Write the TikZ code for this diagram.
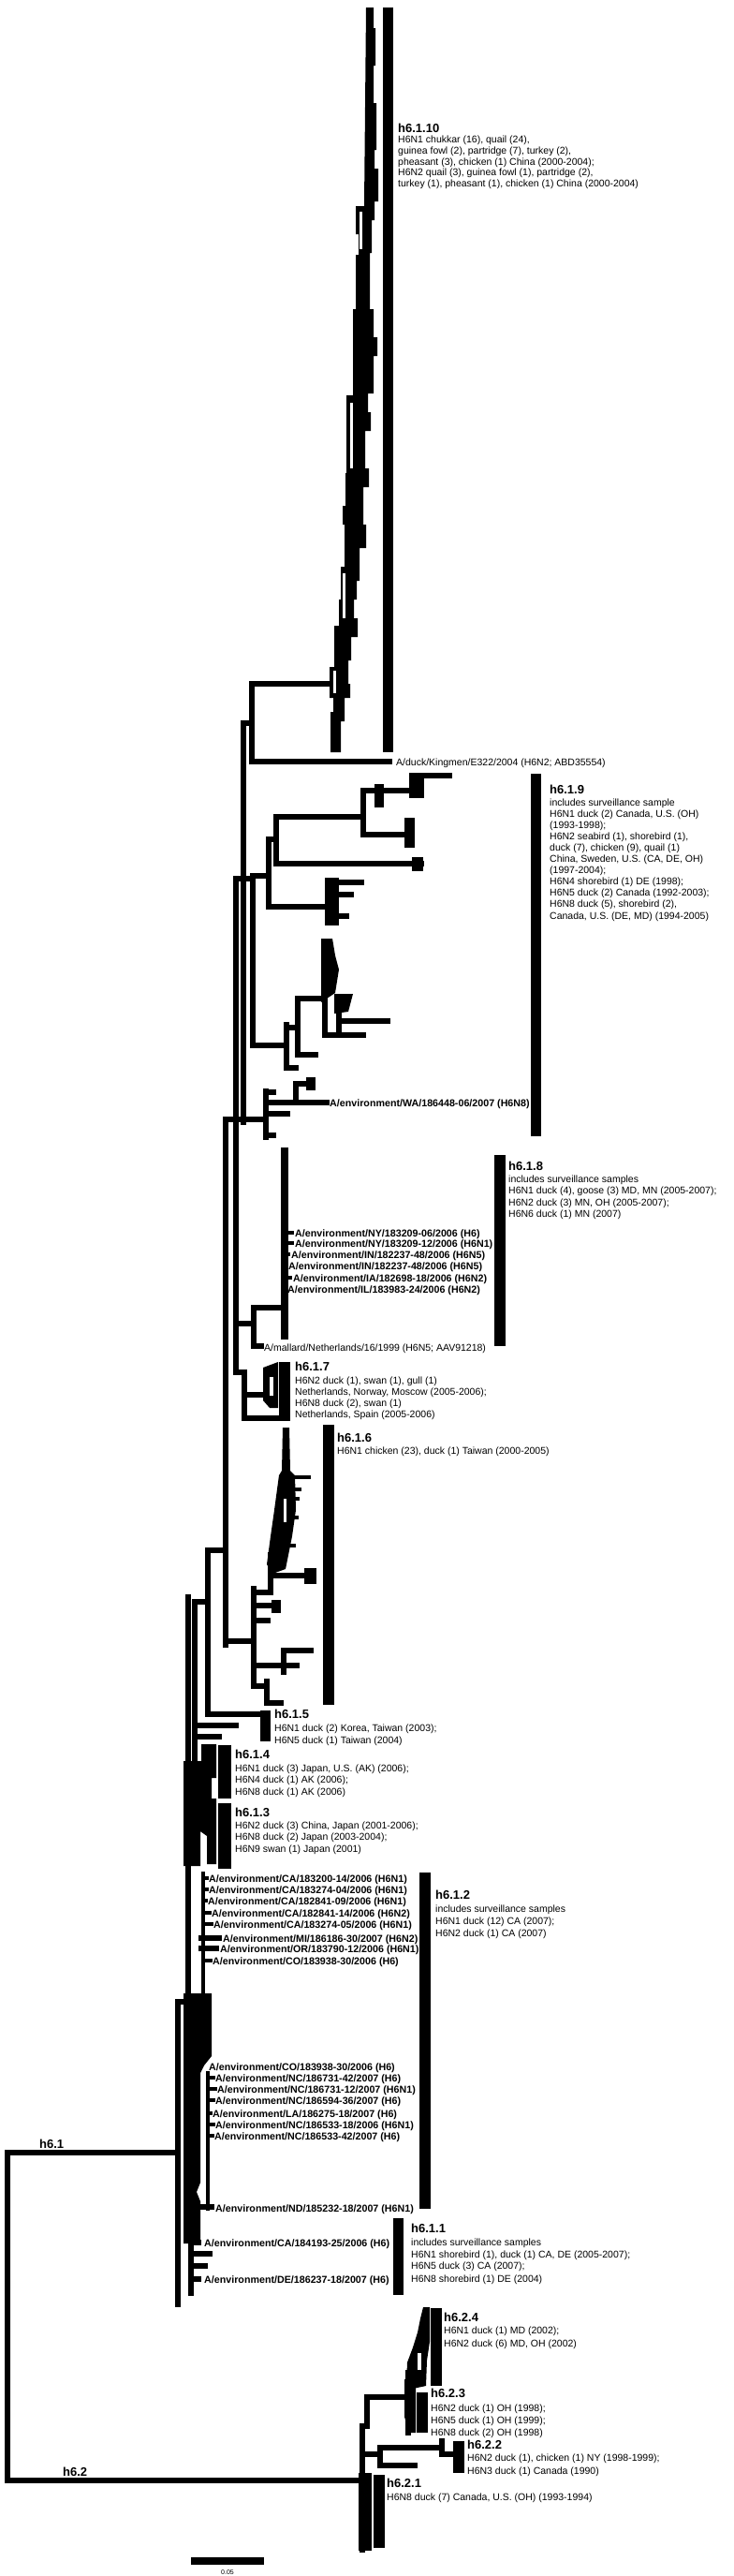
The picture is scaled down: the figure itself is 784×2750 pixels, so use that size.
\documentclass[tikz,border=0pt]{standalone}
\usepackage{fontspec}
\setmainfont{Liberation Sans}
\begin{document}
\begin{tikzpicture}[x=1pt,y=-1pt,
  br/.style={line width=6.5pt,line cap=rect,line join=miter},
  thinbr/.style={line width=4.5pt,line cap=rect,line join=miter},
  txt/.style={anchor=base west,inner sep=0pt,font=\fontsize{10.5}{12}\selectfont},
  envl/.style={anchor=base west,inner sep=0pt,font=\bfseries\fontsize{10.7}{12}\selectfont},
  hd/.style={anchor=base west,inner sep=0pt,font=\bfseries\fontsize{13}{14}\selectfont}]
\fill[white] (0,0) rectangle (784,2750);
\useasboundingbox (0,0) rectangle (784,2750);

% ---------------- root ----------------
\draw[br] (190,2298) -- (8,2298) -- (8,2648) -- (386,2648);

% ---------------- h6.2 ----------------
\draw[br] (387,2722) -- (387,2590);
\draw[br] (392,2590) -- (392,2559) -- (436,2559);
\fill (383,2640) rectangle (397,2723);
\fill (399,2642) rectangle (411,2720);
\draw[br] (387,2620) -- (406,2620);
\draw[br] (406,2632) -- (406,2613) -- (472,2613);
\draw[br] (472,2606) -- (472,2620) -- (484,2620);
\draw[br] (406,2632) -- (443,2632);
\fill (484,2606) rectangle (496,2640);
\draw[br] (436,2597) -- (436,2533);
\fill (432,2540) -- (444,2540) -- (444,2597) -- (437,2597) -- (432,2580) -- cycle;
\fill (445,2554) rectangle (457,2597);
\fill (460,2464) rectangle (472,2547);
\fill (452,2463) -- (459,2463) -- (459,2500) -- (456,2520) -- (455,2547) -- (441,2550) -- (434,2546) -- (435,2522) -- (441,2506) -- (446,2490) -- (449,2475) -- cycle;
\fill[white] (446,2512) rectangle (450,2530);

% ---------------- h6.1 lower (h6.1.1, h6.1.2) ----------------
\draw[br] (190,2137) -- (190,2460);
\draw[br] (201,1705) -- (201,2137) -- (190,2137);
\draw[br] (204,2300) -- (204,2448);
\fill (196,2128) -- (226,2128) -- (226,2195) -- (218,2205) -- (214,2213) -- (214,2330) -- (210,2340) -- (214,2350) -- (214,2395) -- (196,2395) -- cycle;
\draw[br] (204,2406) -- (224,2406);
\draw[br] (204,2419) -- (219,2419);
\draw[br] (204,2433) -- (212,2433);
\draw[br] (204,2394) -- (212,2394);
\draw[thinbr] (217,2000) -- (217,2130);
\draw[thinbr] (217,2005) -- (221,2005);
\draw[thinbr] (217,2017) -- (221,2017);
\draw[thinbr] (217,2029) -- (220,2029);
\draw[thinbr] (217,2042) -- (224,2042);
\draw[thinbr] (217,2054) -- (226,2054);
\draw[br] (215,2069) -- (234,2069);
\draw[br] (215,2080) -- (231,2080);
\draw[thinbr] (217,2093) -- (225,2093);
\draw[thinbr] (222,2213) -- (222,2358);
\draw[thinbr] (222,2218) -- (228,2218);
\draw[thinbr] (222,2230) -- (230,2230);
\draw[thinbr] (222,2242) -- (228,2242);
\draw[thinbr] (222,2256) -- (225,2256);
\draw[thinbr] (222,2268) -- (228,2268);
\draw[thinbr] (222,2280) -- (227,2280);
\draw[br] (214,2356) -- (226,2356);
\fill (448,1999) rectangle (460,2358);
\fill (420,2368) rectangle (431,2450);

% ---------------- h6.1.3 / h6.1.4 / h6.1.5 ----------------
\fill (233,1863) rectangle (247,1920);
\fill (233,1925) rectangle (247,1995);
\fill (196,1880) -- (215,1880) -- (215,1862) -- (231,1862) -- (231,1898) -- (226,1898) -- (226,1920) -- (231,1920) -- (231,1990) -- (221,1990) -- (221,1960) -- (214,1955) -- (214,1992) -- (196,1992) -- cycle;
\draw[br] (208,1710) -- (208,1880);
\draw[br] (208,1710) -- (222,1710);
\draw[br] (241,1655) -- (222,1655) -- (222,1830) -- (278,1830);
\fill (278,1826) rectangle (289,1859);
\draw[br] (208,1842) -- (252,1842);
\draw[br] (208,1854) -- (234,1854);

% ---------------- spine ----------------
\draw[br] (241,1195) -- (241,1756);
\draw[br] (252,938) -- (252,1465);
\draw[br] (260,772) -- (260,1198);
\draw[br] (252,938) -- (270,938);

% ---------------- h6.1.6 ----------------
\draw[br] (241,1752) -- (271,1752);
\draw[br] (271,1696) -- (271,1800);
\draw[br] (271,1700) -- (289,1700);
\draw[br] (289,1660) -- (289,1700);
\fill (302,1524) -- (309,1524) -- (310,1570) -- (315,1575) -- (316,1612) -- (312,1640) -- (305,1675) -- (291,1680) -- (285,1670) -- (289,1640) -- (293,1612) -- (298,1575) -- (301,1570) -- cycle;
\fill[white] (303,1600) rectangle (306,1625);
\draw[thinbr] (308,1577) -- (330,1577);
\draw[thinbr] (310,1590) -- (320,1590);
\draw[thinbr] (312,1600) -- (318,1600);
\draw[thinbr] (310,1620) -- (317,1620);
\draw[thinbr] (306,1650) -- (314,1650);
\draw[br] (292,1682) -- (335,1682);
\fill (325,1674) rectangle (338,1691);
\draw[br] (271,1714) -- (296,1714);
\fill (290,1708) rectangle (300,1722);
\draw[br] (271,1730) -- (286,1730);
\draw[br] (271,1778) -- (317,1778);
\draw[br] (303,1762) -- (303,1785);
\draw[br] (303,1762) -- (332,1762);
\draw[br] (271,1800) -- (285,1800);
\draw[br] (285,1795) -- (285,1818) -- (300,1818);
\fill (345,1521) rectangle (357,1820);

% ---------------- h6.1.7 ----------------
\draw[br] (252,1465) -- (261,1465);
\draw[br] (261,1465) -- (261,1514) -- (297,1514);
\draw[br] (261,1489) -- (279,1489);
\fill (281,1460) -- (297,1454) -- (297,1503) -- (288,1503) -- (281,1495) -- cycle;
\fill[white] (288,1470) rectangle (292,1490);
\fill (298,1454) rectangle (310,1517);

% ---------------- h6.1.8 ----------------
\draw[br] (252,1413) -- (271,1413);
\draw[br] (271,1396) -- (271,1437) -- (279,1437);
\draw[br] (271,1396) -- (304,1396);
\draw[line width=8pt] (304,1225) -- (304,1430);
\draw[thinbr] (304,1316) -- (312,1316);
\draw[thinbr] (304,1327) -- (312,1327);
\draw[thinbr] (304,1339) -- (308,1339);
\draw[thinbr] (304,1364) -- (310,1364);
\fill (528,1233) rectangle (540,1437);

% ---------------- WA subclade ----------------
\draw[br] (241,1195) -- (284,1195);
\draw[br] (284,1165) -- (284,1214);
\draw[br] (284,1177) -- (349,1177);
\draw[br] (316,1177) -- (316,1157) -- (333,1157);
\fill (327,1150) rectangle (337,1164);
\draw[br] (284,1189) -- (307,1189);
\draw[br] (284,1212) -- (292,1212);
\draw[br] (284,1166) -- (292,1166);

% ---------------- h6.1.9 subclades ----------------
\draw[br] (270,935) -- (270,1116) -- (306,1116);
\draw[br] (306,1094) -- (306,1140);
\draw[br] (306,1097) -- (318,1097);
\draw[br] (318,1066) -- (318,1126);
\draw[br] (318,1066) -- (347,1066);
\draw[br] (347,1005) -- (347,1105) -- (388,1105);
\fill (343,1002) -- (355,1002) -- (358,1020) -- (362,1035) -- (358,1060) -- (343,1070) -- cycle;
\draw[br] (362,1068) -- (362,1100);
\draw[br] (362,1090) -- (414,1090);
\fill (357,1061) -- (377,1061) -- (372,1080) -- (357,1082) -- cycle;
\draw[br] (318,1126) -- (337,1126);
\draw[br] (306,1140) -- (316,1140);
\draw[br] (270,935) -- (287,935);
\draw[br] (287,896) -- (287,968) -- (350,968);
\draw[br] (287,896) -- (295,896);
\draw[br] (295,872) -- (295,922) -- (450,922);
\draw[br] (295,872) -- (388,872);
\draw[br] (388,844) -- (388,891);
\draw[br] (388,844) -- (440,844);
\draw[br] (388,891) -- (437,891);
\fill (400,837) rectangle (410,862);
\fill (437,825) rectangle (453,852);
\draw[br] (443,828) -- (480,828);
\fill (432,873) rectangle (443,905);
\fill (440,915) rectangle (452,930);
\fill (347,937) rectangle (362,988);
\draw[br] (355,942) -- (386,942);
\draw[br] (355,955) -- (375,955);
\draw[br] (355,978) -- (370,978);
\fill (567,826) rectangle (578,1213);

% ---------------- Kingmen / h6.1.10 ----------------
\draw[br] (260,772) -- (269,772);
\draw[br] (269,730) -- (269,813) -- (416,813);
\draw[br] (269,730) -- (355,730);
\fill (391,8) -- (399,8) -- (399,30) -- (401,30) -- (401,70) -- (399,70) -- (399,110) -- (402,110) -- (402,160) -- (400,160) -- (400,180) -- (404,180) -- (404,215) -- (400,215) -- (400,235) -- (397,235) -- (397,270) -- (395,270) -- (395,330) -- (399,330) -- (399,360) -- (403,360) -- (403,380) -- (399,380) -- (399,420) -- (393,420) -- (393,440) -- (396,440) -- (396,460) -- (390,460) -- (390,500) -- (394,500) -- (394,520) -- (388,520) -- (388,560) -- (391,560) -- (391,585) -- (384,585) -- (384,620) -- (381,620) -- (381,640) -- (378,640) -- (378,660) -- (382,660) -- (382,680) -- (375,680) -- (375,705) -- (372,705) -- (372,730) -- (374,730) -- (374,745) -- (368,745) -- (368,770) -- (364,770) -- (364,803) -- (353,803) -- (353,760) -- (356,760) -- (356,745) -- (352,745) -- (352,712) -- (357,712) -- (357,668) -- (362,668) -- (362,640) -- (364,640) -- (364,605) -- (368,605) -- (368,560) -- (366,560) -- (366,540) -- (369,540) -- (369,505) -- (370,505) -- (370,422) -- (377,422) -- (377,330) -- (380,330) -- (380,272) -- (383,272) -- (383,250) -- (380,250) -- (380,220) -- (389,220) -- cycle;
\fill[white] (384,226) rectangle (387,266);
\fill[white] (374,430) rectangle (377,500);
\fill[white] (366,612) rectangle (369,660);
\fill[white] (356,716) rectangle (359,740);
\fill (409,8) rectangle (420,803);

% ---------------- scale bar ----------------
\fill (204,2730) rectangle (282,2738);
\node[anchor=base,inner sep=0pt,font=\fontsize{7}{8}\selectfont] (scl) at (243,2748) {0.05};

% ---------------- labels ----------------
\node[hd] (h6110) at (425,141) {h6.1.10};
\foreach \t [count=\i from 0] in {{H6N1 chukkar (16), quail (24),},{guinea fowl (2), partridge (7), turkey (2),},{pheasant (3), chicken (1) China (2000-2004);},{H6N2 quail (3), guinea fowl (1), partridge (2),},{turkey (1), pheasant (1), chicken (1) China (2000-2004)}}
  \node[txt] (a\i) at (425,{152.5+11.8*\i}) {\t};
\node[txt] (king) at (423,817) {A/duck/Kingmen/E322/2004 (H6N2; ABD35554)};

\node[hd] (h619) at (587,847) {h6.1.9};
\foreach \t [count=\i from 0] in {{includes surveillance sample},{H6N1 duck (2) Canada, U.S. (OH)},{(1993-1998);},{H6N2 seabird (1), shorebird (1),},{duck (7), chicken (9), quail (1)},{China, Sweden, U.S. (CA, DE, OH)},{(1997-2004);},{H6N4 shorebird (1) DE (1998);},{H6N5 duck (2) Canada (1992-2003);},{H6N8 duck (5), shorebird (2),},{Canada, U.S. (DE, MD) (1994-2005)}}
  \node[txt] (b\i) at (587,{860+12.1*\i}) {\t};
\node[envl] (wa) at (352,1181) {A/environment/WA/186448-06/2007 (H6N8)};

\node[hd] (h618) at (543,1249) {h6.1.8};
\foreach \t [count=\i from 0] in {{includes surveillance samples},{H6N1 duck (4), goose (3) MD, MN (2005-2007);},{H6N2 duck (3) MN, OH (2005-2007);},{H6N6 duck (1) MN (2007)}}
  \node[txt] (c\i) at (543,{1262+12.5*\i}) {\t};
\node[envl] (e1) at (315,1320) {A/environment/NY/183209-06/2006 (H6)};
\node[envl] (e2) at (315,1331) {A/environment/NY/183209-12/2006 (H6N1)};
\node[envl] (e3) at (311,1343) {A/environment/IN/182237-48/2006 (H6N5)};
\node[envl] (e4) at (308,1355) {A/environment/IN/182237-48/2006 (H6N5)};
\node[envl] (e5) at (313,1368) {A/environment/IA/182698-18/2006 (H6N2)};
\node[envl] (e6) at (307,1380) {A/environment/IL/183983-24/2006 (H6N2)};
\node[txt] (mal) at (282,1442) {A/mallard/Netherlands/16/1999 (H6N5; AAV91218)};

\node[hd] (h617) at (315,1463) {h6.1.7};
\foreach \t [count=\i from 0] in {{H6N2 duck (1), swan (1), gull (1)},{Netherlands, Norway, Moscow (2005-2006);},{H6N8 duck (2), swan (1)},{Netherlands, Spain (2005-2006)}}
  \node[txt] (d\i) at (315,{1477+12.3*\i}) {\t};

\node[hd] (h616) at (360,1539) {h6.1.6};
\node[txt] (f0) at (360,1552) {H6N1 chicken (23), duck (1) Taiwan (2000-2005)};

\node[hd] (h615) at (293,1834) {h6.1.5};
\node[txt] (g0) at (293,1848) {H6N1 duck (2) Korea, Taiwan (2003);};
\node[txt] (g1) at (293,1861) {H6N5 duck (1) Taiwan (2004)};

\node[hd] (h614) at (251,1877) {h6.1.4};
\node[txt] (k0) at (251,1891) {H6N1 duck (3) Japan, U.S. (AK) (2006);};
\node[txt] (k1) at (251,1903.5) {H6N4 duck (1) AK (2006);};
\node[txt] (k2) at (251,1916) {H6N8 duck (1) AK (2006)};

\node[hd] (h613) at (251,1939) {h6.1.3};
\node[txt] (m0) at (251,1952) {H6N2 duck (3) China, Japan (2001-2006);};
\node[txt] (m1) at (251,1964.5) {H6N8 duck (2) Japan (2003-2004);};
\node[txt] (m2) at (251,1977) {H6N9 swan (1) Japan (2001)};

\node[hd] (h612) at (465,2027) {h6.1.2};
\node[txt] (p0) at (465,2041) {includes surveillance samples};
\node[txt] (p1) at (465,2054) {H6N1 duck (12) CA (2007);};
\node[txt] (p2) at (465,2067) {H6N2 duck (1) CA (2007)};
\node[envl] (q1) at (223,2009) {A/environment/CA/183200-14/2006 (H6N1)};
\node[envl] (q2) at (223,2021) {A/environment/CA/183274-04/2006 (H6N1)};
\node[envl] (q3) at (222,2033) {A/environment/CA/182841-09/2006 (H6N1)};
\node[envl] (q4) at (226,2046) {A/environment/CA/182841-14/2006 (H6N2)};
\node[envl] (q5) at (228,2058) {A/environment/CA/183274-05/2006 (H6N1)};
\node[envl] (q6) at (238,2073) {A/environment/MI/186186-30/2007 (H6N2)};
\node[envl] (q7) at (235,2084) {A/environment/OR/183790-12/2006 (H6N1)};
\node[envl] (q8) at (227,2097) {A/environment/CO/183938-30/2006 (H6)};
\node[envl] (r1) at (223,2210) {A/environment/CO/183938-30/2006 (H6)};
\node[envl] (r2) at (230,2222) {A/environment/NC/186731-42/2007 (H6)};
\node[envl] (r3) at (232,2234) {A/environment/NC/186731-12/2007 (H6N1)};
\node[envl] (r4) at (230,2246) {A/environment/NC/186594-36/2007 (H6)};
\node[envl] (r5) at (227,2260) {A/environment/LA/186275-18/2007 (H6)};
\node[envl] (r6) at (230,2272) {A/environment/NC/186533-18/2006 (H6N1)};
\node[envl] (r7) at (229,2284) {A/environment/NC/186533-42/2007 (H6)};
\node[envl] (r8) at (230,2361) {A/environment/ND/185232-18/2007 (H6N1)};

\node[hd] (h611) at (439,2383) {h6.1.1};
\node[txt] (s0) at (439,2397) {includes surveillance samples};
\node[txt] (s1) at (439,2410) {H6N1 shorebird (1), duck (1) CA, DE (2005-2007);};
\node[txt] (s2) at (439,2422) {H6N5 duck (3) CA (2007);};
\node[txt] (s3) at (439,2436) {H6N8 shorebird (1) DE (2004)};
\node[envl] (u1) at (218,2398) {A/environment/CA/184193-25/2006 (H6)};
\node[envl] (u2) at (218,2437) {A/environment/DE/186237-18/2007 (H6)};

\node[hd] (h624) at (474,2478) {h6.2.4};
\node[txt] (v0) at (474,2491) {H6N1 duck (1) MD (2002);};
\node[txt] (v1) at (474,2505) {H6N2 duck (6) MD, OH (2002)};
\node[hd] (h623) at (460,2559) {h6.2.3};
\node[txt] (w0) at (460,2574) {H6N2 duck (1) OH (1998);};
\node[txt] (w1) at (460,2587) {H6N5 duck (1) OH (1999);};
\node[txt] (w2) at (460,2600) {H6N8 duck (2) OH (1998)};
\node[hd] (h622) at (499,2614) {h6.2.2};
\node[txt] (x0) at (499,2627) {H6N2 duck (1), chicken (1) NY (1998-1999);};
\node[txt] (x1) at (499,2641) {H6N3 duck (1) Canada (1990)};
\node[hd] (h621) at (413,2655) {h6.2.1};
\node[txt] (y0) at (413,2669) {H6N8 duck (7) Canada, U.S. (OH) (1993-1994)};

\node[hd] (h62) at (67,2643) {h6.2};
\node[hd] (h61) at (42,2293) {h6.1};
\end{tikzpicture}
\end{document}
